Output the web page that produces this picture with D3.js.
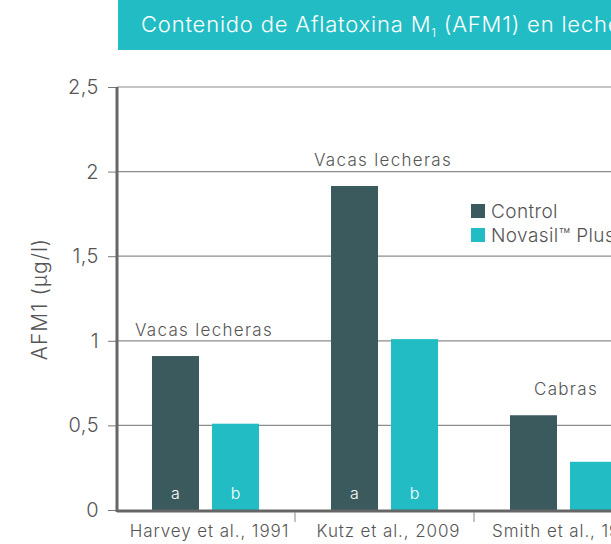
<!DOCTYPE html>
<html>
<head>
<meta charset="utf-8">
<script src="https://cdn.jsdelivr.net/npm/d3@7"></script>
<style>
  body { margin: 0; background: #fff; }
  svg { display: block; font-family: "Inter", "Open Sans", sans-serif; font-weight: 300; }
</style>
</head>
<body>
<svg id="chart" width="611" height="544"></svg>
<script>
  // chart data
  var studies = ["Harvey et al., 1991", "Kutz et al., 2009", "Smith et al., 1994"];
  var control = [0.91, 1.915, 0.56];
  var novasil = [0.51, 1.01, 0.285];
  var animals = ["Vacas lecheras", "Vacas lecheras", "Cabras"];
  var controlLetters = ["a", "a", ""];
  var novasilLetters = ["b", "b", ""];
  var seriesNames = ["Control", "Novasil\u2122 Plus"];
  var yTicks = [0, 0.5, 1, 1.5, 2, 2.5];

  var colors = { control: "#3b5a5e", novasil: "#22bdc4" };
  var svg = d3.select("#chart");

  // title banner
  svg.append("rect")
      .attr("x", 118).attr("y", 0)
      .attr("width", 493).attr("height", 50)
      .attr("fill", "#22bdc4");
  var title = svg.append("text")
      .attr("x", 141).attr("y", 32)
      .attr("fill", "#fff")
      .style("font-size", "22px")
      .style("letter-spacing", "0.8px");
  title.append("tspan").text("Contenido de Aflatoxina M");
  title.append("tspan").attr("dy", 5).style("font-size", "12px").text("1");
  title.append("tspan").attr("dy", -5).text(" (AFM1) en leche");

  var y = d3.scaleLinear().domain([0, 2.5]).range([510, 87]);
  var x = d3.scaleBand().domain(studies).range([118, 655]);
  var inner = d3.scaleBand().domain(["control", "novasil"])
      .range([34, 141]).paddingInner(0.2167);

  // gridlines
  svg.append("g").selectAll("line")
      .data(yTicks.filter(function(d) { return d > 0; }))
      .enter().append("line")
      .attr("x1", 117).attr("x2", 611)
      .attr("y1", function(d) { return y(d); })
      .attr("y2", function(d) { return y(d); })
      .attr("stroke", "#8c8c8c").attr("stroke-width", 1.2);

  // y axis
  var yAxis = svg.append("g")
      .attr("transform", "translate(117,0)")
      .call(d3.axisLeft(y).tickValues(yTicks).tickSize(9).tickPadding(9)
        .tickFormat(function(d) { return String(d).replace(".", ","); }));
  yAxis.select(".domain").remove();
  yAxis.selectAll(".tick line").attr("stroke", "#777");
  yAxis.selectAll(".tick text")
      .attr("fill", "#555").style("font-size", "20px")
      .style("font-family", "Inter, sans-serif")
      .style("letter-spacing", "0.5px");

  svg.append("text")
      .attr("transform", "translate(47,299) rotate(-90)")
      .attr("text-anchor", "middle")
      .attr("fill", "#555")
      .style("font-size", "21px")
      .style("letter-spacing", "1px")
      .text("AFM1 (\u00b5g/l)");

  // bars
  var groups = svg.append("g").selectAll("g")
      .data(studies)
      .enter().append("g")
      .attr("transform", function(d) { return "translate(" + x(d) + ",0)"; });

  function drawBars(key, values, letters) {
    groups.append("rect")
        .attr("x", inner(key))
        .attr("width", inner.bandwidth())
        .attr("y", function(d, i) { return y(values[i]); })
        .attr("height", function(d, i) { return y(0) - y(values[i]); })
        .attr("fill", colors[key]);
    groups.append("text")
        .attr("x", inner(key) + inner.bandwidth() / 2)
        .attr("y", 499)
        .attr("text-anchor", "middle")
        .attr("fill", "#fff")
        .style("font-size", "16px")
        .text(function(d, i) { return letters[i]; });
  }
  drawBars("control", control, controlLetters);
  drawBars("novasil", novasil, novasilLetters);

  // animal labels above the bars
  groups.append("text")
      .attr("x", function(d, i) { return i === 2 ? 90 : 86; })
      .attr("y", function(d, i) { return y(Math.max(control[i], novasil[i])) - 20; })
      .attr("text-anchor", "middle")
      .attr("fill", "#555")
      .style("font-size", "17px")
      .style("letter-spacing", "1.3px")
      .text(function(d, i) { return animals[i]; });

  // x axis
  var xAxis = svg.append("g")
      .attr("transform", "translate(0,511)")
      .call(d3.axisBottom(x).tickSize(0).tickPadding(14));
  xAxis.select(".domain").remove();
  xAxis.selectAll(".tick text")
      .attr("fill", "#555").style("font-size", "17px")
      .style("font-family", "Inter, sans-serif")
      .style("letter-spacing", "0.9px")
      .attr("dx", 2);
  svg.append("line")
      .attr("x1", 117).attr("x2", 611).attr("y1", 511).attr("y2", 511)
      .attr("stroke", "#666").attr("stroke-width", 3);
  svg.append("line")
      .attr("x1", 117).attr("x2", 117).attr("y1", 87).attr("y2", 512)
      .attr("stroke", "#666").attr("stroke-width", 3);
  svg.append("g").selectAll("line")
      .data(studies.slice(1))
      .enter().append("line")
      .attr("x1", function(d) { return x(d) - 2; })
      .attr("x2", function(d) { return x(d) - 2; })
      .attr("y1", 512).attr("y2", 522)
      .attr("stroke", "#888");

  // legend
  var legend = svg.append("g").selectAll("g")
      .data(seriesNames)
      .enter().append("g")
      .attr("transform", function(d, i) { return "translate(471," + (204 + i * 24) + ")"; });
  legend.append("rect")
      .attr("width", 14).attr("height", 14)
      .attr("fill", function(d, i) { return i === 0 ? colors.control : colors.novasil; });
  legend.append("text")
      .attr("x", 20).attr("y", 14)
      .attr("fill", "#555")
      .style("font-size", "19px")
      .style("letter-spacing", "0.4px")
      .text(function(d) { return d; });
</script>
</body>
</html>
